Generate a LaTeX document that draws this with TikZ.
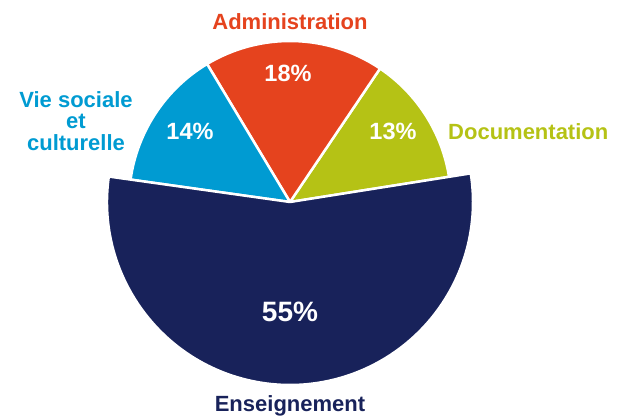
\documentclass[tikz,border=0pt]{standalone}
\usepackage{fontspec}
\setmainfont{Liberation Sans}
\usetikzlibrary{positioning}
\definecolor{docu}{RGB}{181,194,21}
\definecolor{admin}{RGB}{229,67,30}
\definecolor{vie}{RGB}{0,155,210}
\definecolor{ens}{RGB}{24,34,90}
\tikzset{
  slice/.style={draw=white,line width=2.5pt,line join=round},
  share/.style={text=white,inner sep=0pt,anchor=base,
    font=\fontsize{23.5}{25}\selectfont\bfseries},
  caption/.style={inner sep=0pt,align=center,
    font=\fontsize{22}{21.5}\selectfont\bfseries}
}
\begin{document}
\begin{tikzpicture}[x=1pt,y=1pt]
  \useasboundingbox (0,0) rectangle (621,418);
  \coordinate (c) at (290,216);

  % slices: from/to/radius/colour
  \foreach \from/\to/\rad/\col in {9/56/161/docu,56/121/161/admin,121/172/161/vie,172/369/183/ens}
    \filldraw[slice,fill=\col] (c) -- ++(\from:\rad)
      arc[start angle=\from,end angle=\to,radius=\rad] -- cycle;

  % percentages
  \node (p18) [share] at (288,336) {18\%};
  \node (p14) [share] at (190,278) {14\%};
  \node (p13) [share] at (393,278) {13\%};
  \node (p55) [share,font=\fontsize{28}{30}\selectfont\bfseries] at (290,96) {55\%};

  % captions
  \node (admin) [caption,text=admin,anchor=base] at (290,388) {Administration};
  \node (vie) [caption,text=vie] at (76,297) {Vie sociale\\et\\culturelle};
  \node (docu) [caption,text=docu,anchor=base west] at (448,278) {Documentation};
  \node (ens) [caption,text=ens,anchor=base] at (290,7) {Enseignement};
\end{tikzpicture}
\end{document}
